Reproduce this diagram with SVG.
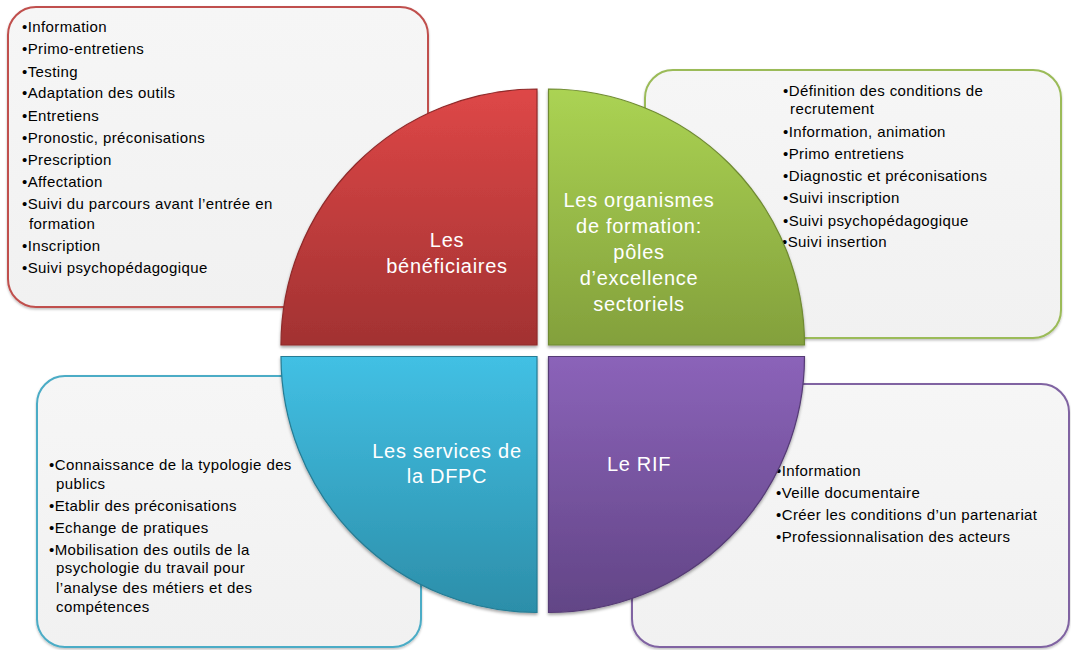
<svg xmlns="http://www.w3.org/2000/svg" width="1071" height="650" viewBox="0 0 1071 650">
<defs>
<linearGradient id="gBox" x1="0" y1="0" x2="0" y2="1"><stop offset="0" stop-color="#f6f6f6"/><stop offset="1" stop-color="#f1f1f1"/></linearGradient>
<linearGradient id="gRed" x1="0" y1="0" x2="0" y2="1"><stop offset="0" stop-color="#de4747"/><stop offset="1" stop-color="#a23232"/></linearGradient>
<linearGradient id="gGreen" x1="0" y1="0" x2="0" y2="1"><stop offset="0" stop-color="#abd353"/><stop offset="1" stop-color="#83a03c"/></linearGradient>
<linearGradient id="gBlue" x1="0" y1="0" x2="0" y2="1"><stop offset="0" stop-color="#42c0e4"/><stop offset="1" stop-color="#2c8ea9"/></linearGradient>
<linearGradient id="gPurple" x1="0" y1="0" x2="0" y2="1"><stop offset="0" stop-color="#8b63b9"/><stop offset="1" stop-color="#624586"/></linearGradient>
<filter id="sh" x="-10%" y="-10%" width="120%" height="120%"><feDropShadow dx="0" dy="2" stdDeviation="1.5" flood-color="#000" flood-opacity="0.35"/></filter>
<filter id="bsh" x="-5%" y="-5%" width="110%" height="110%"><feDropShadow dx="0" dy="1.5" stdDeviation="1" flood-color="#000" flood-opacity="0.25"/></filter>
</defs>
<style>
.box{fill:url(#gBox);stroke-width:2;filter:url(#bsh)}
.q{filter:url(#sh);stroke-width:1.2}
.li{font-family:"Liberation Sans",Arial,sans-serif;font-size:15px;letter-spacing:0.4px;fill:#000}
.lb{font-family:"Liberation Sans",Arial,sans-serif;font-size:20px;letter-spacing:0.7px;fill:#fff;text-anchor:middle}
</style>

<g id="box-beneficiaires">
<rect class="box" x="8" y="7" width="420" height="300" rx="28" stroke="#c0504d"/>
<text class="li" x="22" y="32">•Information</text>
<text class="li" x="22" y="54">•Primo-entretiens</text>
<text class="li" x="22" y="77">•Testing</text>
<text class="li" x="22" y="98">•Adaptation des outils</text>
<text class="li" x="22" y="121">•Entretiens</text>
<text class="li" x="22" y="143">•Pronostic, préconisations</text>
<text class="li" x="22" y="165">•Prescription</text>
<text class="li" x="22" y="187">•Affectation</text>
<text class="li" x="22" y="209">•Suivi du parcours avant l’entrée en</text>
<text class="li" x="29" y="229">formation</text>
<text class="li" x="22" y="251">•Inscription</text>
<text class="li" x="22" y="273">•Suivi psychopédagogique</text>
</g>

<g id="box-organismes">
<rect class="box" x="645" y="70" width="416" height="268" rx="28" stroke="#9bbb59"/>
<text class="li" x="783" y="96">•Définition des conditions de</text>
<text class="li" x="790" y="114">recrutement</text>
<text class="li" x="783" y="137">•Information, animation</text>
<text class="li" x="783" y="159">•Primo entretiens</text>
<text class="li" x="783" y="181">•Diagnostic et préconisations</text>
<text class="li" x="783" y="203">•Suivi inscription</text>
<text class="li" x="783" y="226">•Suivi psychopédagogique</text>
<text class="li" x="782" y="247">•Suivi insertion</text>
</g>

<g id="box-dfpc">
<rect class="box" x="37" y="376" width="384" height="271" rx="28" stroke="#4bacc6"/>
<text class="li" x="49" y="470">•Connaissance de la typologie des</text>
<text class="li" x="56" y="489">publics</text>
<text class="li" x="49" y="511">•Etablir des préconisations</text>
<text class="li" x="49" y="533">•Echange de pratiques</text>
<text class="li" x="49" y="555">•Mobilisation des outils de la</text>
<text class="li" x="56" y="573">psychologie du travail pour</text>
<text class="li" x="56" y="593">l’analyse des métiers et des</text>
<text class="li" x="56" y="612">compétences</text>
</g>

<g id="box-rif">
<rect class="box" x="632" y="384" width="437" height="263" rx="28" stroke="#8064a2"/>
<text class="li" x="776" y="476">•Information</text>
<text class="li" x="776" y="498">•Veille documentaire</text>
<text class="li" x="776" y="520">•Créer les conditions d’un partenariat</text>
<text class="li" x="776" y="542">•Professionnalisation des acteurs</text>
</g>

<g id="q-beneficiaires">
<path class="q" d="M537,345 L281,345 A256,256 0 0 1 537,89 Z" fill="url(#gRed)" stroke="#8f2a2a"/>
<text class="lb" x="447" y="247">Les</text>
<text class="lb" x="447" y="273">bénéficiaires</text>
</g>

<g id="q-organismes">
<path class="q" d="M548.5,345 L548.5,89 A256,256 0 0 1 804.5,345 Z" fill="url(#gGreen)" stroke="#6f8a32"/>
<text class="lb" x="639" y="207">Les organismes</text>
<text class="lb" x="639" y="233">de formation:</text>
<text class="lb" x="639" y="259">pôles</text>
<text class="lb" x="639" y="285">d’excellence</text>
<text class="lb" x="639" y="311">sectoriels</text>
</g>

<g id="q-dfpc">
<path class="q" d="M537,356.5 L537,612.5 A256,256 0 0 1 281,356.5 Z" fill="url(#gBlue)" stroke="#257c94"/>
<text class="lb" x="447" y="458">Les services de</text>
<text class="lb" x="447" y="483">la DFPC</text>
</g>

<g id="q-rif">
<path class="q" d="M548.5,356.5 L804.5,356.5 A256,256 0 0 1 548.5,612.5 Z" fill="url(#gPurple)" stroke="#553b75"/>
<text class="lb" x="639" y="471">Le RIF</text>
</g>

<g id="connectors"></g>
</svg>
